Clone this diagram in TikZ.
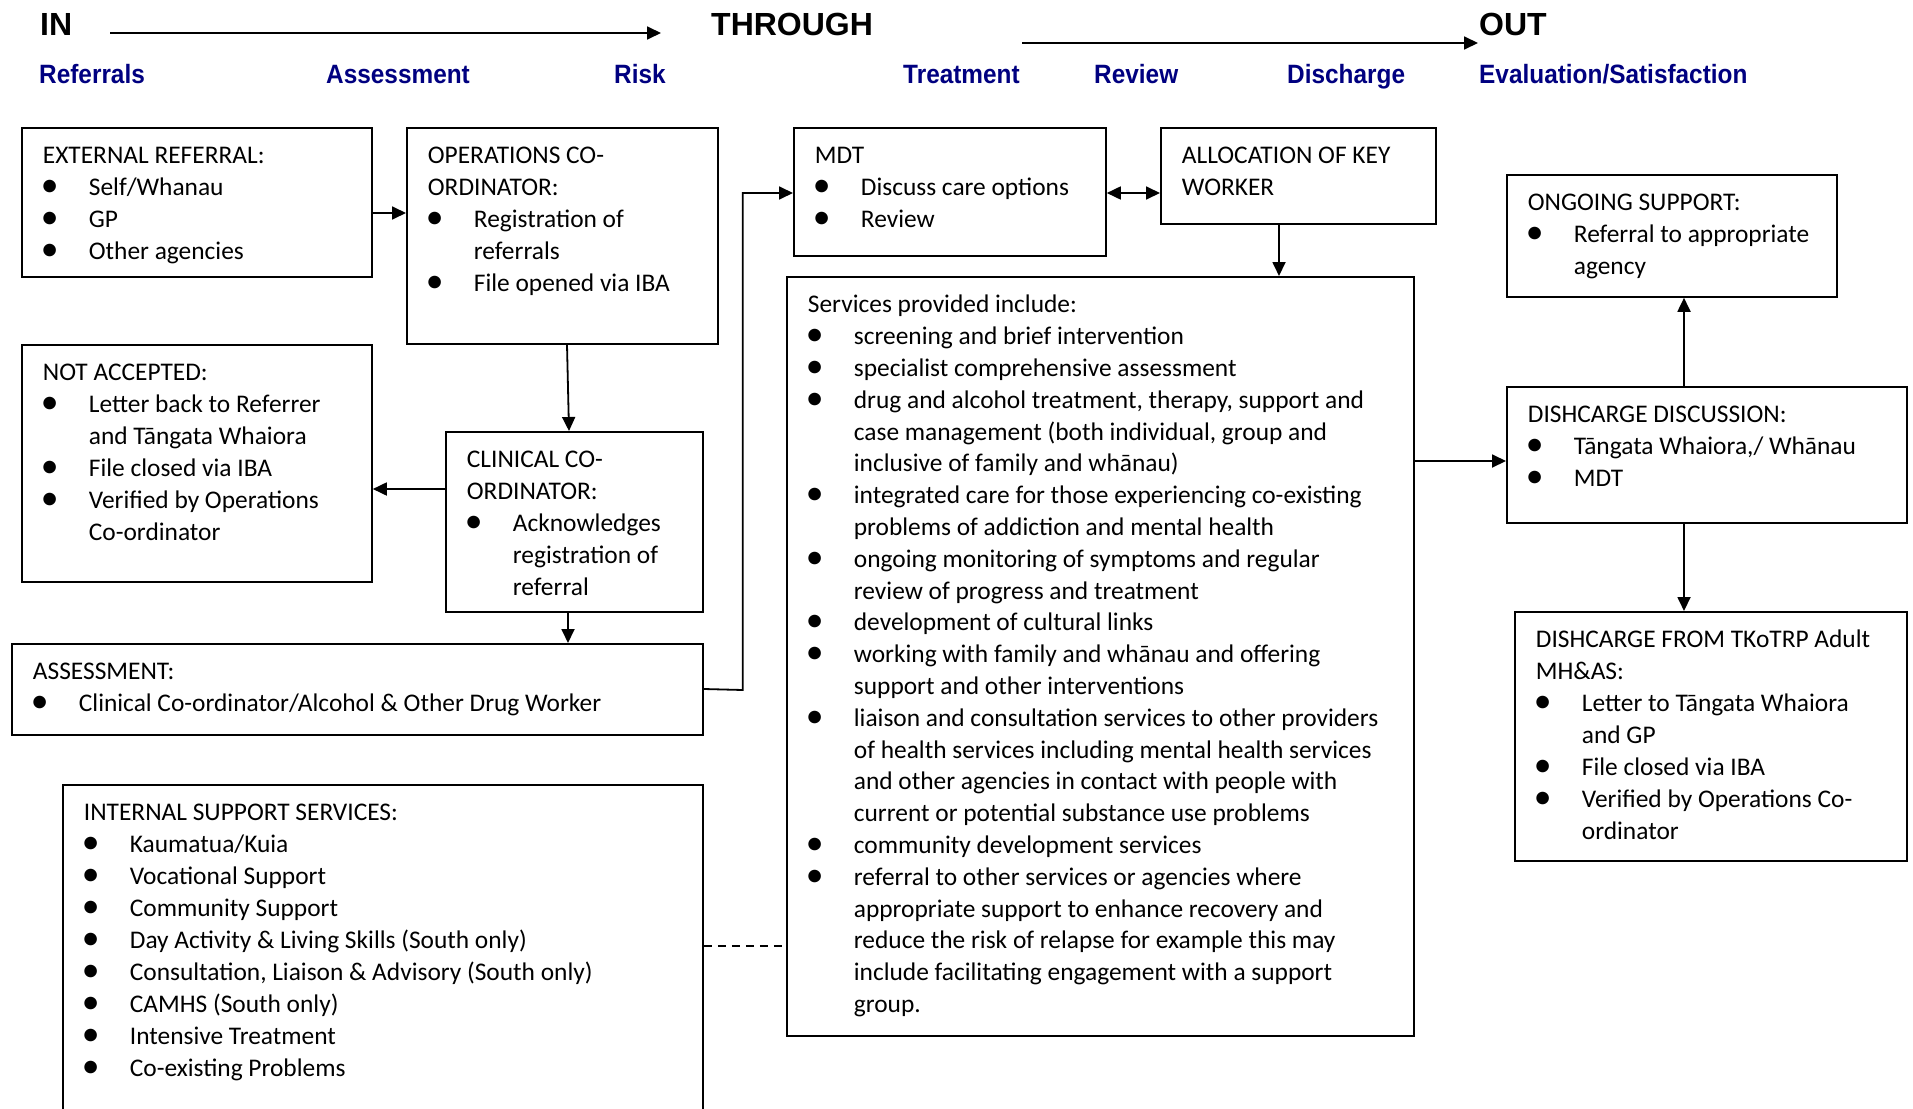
\documentclass[tikz,border=0pt]{standalone}
\usepackage{fontspec}
\usepackage{graphicx}
\setmainfont{Carlito}
\newfontfamily\headfont{Liberation Sans}
\newfontfamily\labfont[FakeStretch=0.92]{Liberation Sans}
\usetikzlibrary{arrows.meta,calc}
\definecolor{stagecol}{RGB}{0,0,128}

% body text of the boxes
\newcommand\bodyfont{\fontsize{25.4pt}{32pt}\selectfont}
\newcommand\bul{\raisebox{-1pt}{\scalebox{1.4}{\textbullet}}}
\newcommand\boxhead[1]{\hspace*{21pt}\rule{0pt}{36pt}\mbox{#1}}
\newcommand\headcont[1]{\\\hspace*{21pt}\mbox{#1}}
\newcommand\bitem[1]{\\\hspace*{19pt}\makebox[48pt][l]{\bul}\mbox{#1}}
\newcommand\cont[1]{\\\hspace*{67pt}\mbox{#1}}
\newcommand\boxtext[3]{\parbox[t][#2][t]{#1}{\raggedright\bodyfont #3}}

\begin{document}
\begin{tikzpicture}[x=1pt,y=-1pt,
  box/.style={draw, line width=1.8pt, inner sep=0pt, anchor=north west},
  conn/.style={line width=1.8pt, ->},
  link/.style={line width=1.5pt, dash pattern=on 8pt off 6pt},
  stage/.style={font=\headfont\bfseries\fontsize{32pt}{36pt}\selectfont, inner sep=0pt, anchor=base west},
  phase/.style={font=\labfont\bfseries\fontsize{26.5pt}{30pt}\selectfont, text=stagecol, inner sep=0pt, anchor=base west},
  >={Triangle[length=14pt,width=13pt]}]
\useasboundingbox (0,0) rectangle (1913,1108);
\clip (0,0) rectangle (1913,1108);
\fill[white] (0,0) rectangle (1913,1108);

% stages of the pathway
\node[stage] (in) at (40,36) {IN};
\node[stage] (through) at (711,36) {THROUGH};
\node[stage] (out) at (1479,36) {OUT};
\coordinate (a1s) at (110,33);
\coordinate (a1e) at (661,33);
\coordinate (a2s) at (1022,43);
\coordinate (a2e) at (1478,43);
\draw[conn] (a1s) -- (a1e);
\draw[conn] (a2s) -- (a2e);

\node[phase] (ref) at (39,84) {Referrals};
\node[phase] (ass) at (326,84) {Assessment};
\node[phase] (risk) at (614,84) {Risk};
\node[phase] (treat) at (903,84) {Treatment};
\node[phase] (rev) at (1094,84) {Review};
\node[phase] (dis) at (1287,84) {Discharge};
\node[phase] (eval) at (1479,84) {Evaluation/Satisfaction};

% referral and assessment
\node[box] (ext) at (21,127) {\boxtext{350pt}{149pt}{%
\boxhead{EXTERNAL REFERRAL:}
\bitem{Self/Whanau}
\bitem{GP}
\bitem{Other agencies}}};

\node[box] (ops) at (406,127) {\boxtext{311pt}{216pt}{%
\boxhead{OPERATIONS CO-}
\headcont{ORDINATOR:}
\bitem{Registration of}
\cont{referrals}
\bitem{File opened via IBA}}};

\node[box] (nacc) at (21,344) {\boxtext{350pt}{237pt}{%
\boxhead{NOT ACCEPTED:}
\bitem{Letter back to Referrer}
\cont{and Tāngata Whaiora}
\bitem{File closed via IBA}
\bitem{Verified by Operations}
\cont{Co-ordinator}}};

\node[box] (clin) at (445,431) {\boxtext{257pt}{180pt}{%
\boxhead{CLINICAL CO-}
\headcont{ORDINATOR:}
\bitem{Acknowledges}
\cont{registration of}
\cont{referral}}};

\node[box] (assess) at (11,643) {\boxtext{691pt}{91pt}{%
\boxhead{ASSESSMENT:}
\bitem{Clinical Co-ordinator/Alcohol \& Other Drug Worker}}};

\node[box] (int) at (62,784) {\boxtext{640pt}{340pt}{%
\boxhead{INTERNAL SUPPORT SERVICES:}
\bitem{Kaumatua/Kuia}
\bitem{Vocational Support}
\bitem{Community Support}
\bitem{Day Activity \& Living Skills (South only)}
\bitem{Consultation, Liaison \& Advisory (South only)}
\bitem{CAMHS (South only)}
\bitem{Intensive Treatment}
\bitem{Co-existing Problems}}};

% treatment and review
\node[box] (mdt) at (793,127) {\boxtext{312pt}{128pt}{%
\boxhead{MDT}
\bitem{Discuss care options}
\bitem{Review}}};

\node[box] (alloc) at (1160,127) {\boxtext{275pt}{96pt}{%
\boxhead{ALLOCATION OF KEY}
\headcont{WORKER}}};

\node[box] (serv) at (786,276) {\boxtext{627pt}{759pt}{\fontsize{25.4pt}{31.8pt}\selectfont
\boxhead{Services provided include:}
\bitem{screening and brief intervention}
\bitem{specialist comprehensive assessment}
\bitem{drug and alcohol treatment, therapy, support and}
\cont{case management (both individual, group and}
\cont{inclusive of family and whānau)}
\bitem{integrated care for those experiencing co-existing}
\cont{problems of addiction and mental health}
\bitem{ongoing monitoring of symptoms and regular}
\cont{review of progress and treatment}
\bitem{development of cultural links}
\bitem{working with family and whānau and offering}
\cont{support and other interventions}
\bitem{liaison and consultation services to other providers}
\cont{of health services including mental health services}
\cont{and other agencies in contact with people with}
\cont{current or potential substance use problems}
\bitem{community development services}
\bitem{referral to other services or agencies where}
\cont{appropriate support to enhance recovery and}
\cont{reduce the risk of relapse for example this may}
\cont{include facilitating engagement with a support}
\cont{group.}}};

% discharge
\node[box] (ongo) at (1506,174) {\boxtext{330pt}{122pt}{%
\boxhead{ONGOING SUPPORT:}
\bitem{Referral to appropriate}
\cont{agency}}};

\node[box] (disc) at (1506,386) {\boxtext{400pt}{136pt}{%
\boxhead{DISHCARGE DISCUSSION:}
\bitem{Tāngata Whaiora,/ Whānau}
\bitem{MDT}}};

\node[box] (dfrom) at (1514,611) {\boxtext{392pt}{249pt}{%
\boxhead{DISHCARGE FROM TKoTRP Adult}
\headcont{MH\&AS:}
\bitem{Letter to Tāngata Whaiora}
\cont{and GP}
\bitem{File closed via IBA}
\bitem{Verified by Operations Co-}
\cont{ordinator}}};

% connectors
\coordinate (extout) at ($(ext.north east)+(0,86)$);
\draw[conn] (extout) -- (extout -| ops.west);

\coordinate (opsout) at ($(ops.south west)+(161,0)$);
\coordinate (clinin) at ($(clin.north west)+(124,0)$);
\draw[conn] (opsout) -- (clinin);

\coordinate (clinleft) at ($(clin.north west)+(0,58)$);
\draw[conn] (clinleft) -- (clinleft -| nacc.east);

\coordinate (clinout) at ($(clin.south west)+(123,0)$);
\draw[conn] (clinout) -- (clinout |- assess.north);

\coordinate (assout) at ($(assess.north east)+(0,46)$);
\coordinate (mdtin) at ($(mdt.north west)+(0,66)$);
\draw[conn] (assout) -- ++(39,1) |- (mdtin);

\coordinate (mdtout) at ($(mdt.north east)+(0,66)$);
\draw[conn, <->] (mdtout) -- (mdtout -| alloc.west);

\coordinate (allocout) at ($(alloc.south west)+(119,0)$);
\draw[conn] (allocout) -- (allocout |- serv.north);

\coordinate (servout) at ($(serv.north east)+(0,185)$);
\draw[conn] (servout) -- (servout -| disc.west);

\coordinate (discup) at ($(disc.north west)+(178,0)$);
\draw[conn] (discup) -- (discup |- ongo.south);

\coordinate (discdown) at ($(disc.south west)+(178,0)$);
\draw[conn] (discdown) -- (discdown |- dfrom.north);

\coordinate (intout) at ($(int.north east)+(0,162)$);
\draw[link] (intout) -- (intout -| serv.west);
\end{tikzpicture}
\end{document}
